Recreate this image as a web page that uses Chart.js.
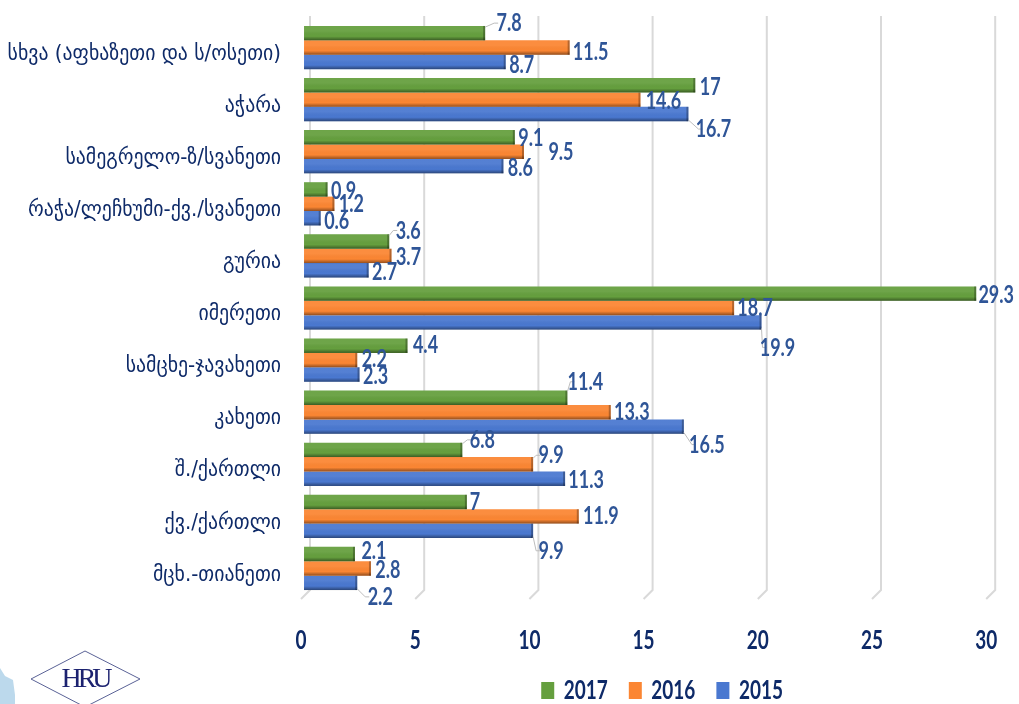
<!DOCTYPE html>
<html>
<head>
<meta charset="utf-8">
<title>chart</title>
<script src="https://cdn.jsdelivr.net/npm/chart.js@4"></script>
<style>
    html, body { margin: 0; padding: 0; background: #fff; }
    #wrap { width: 1019px; height: 704px; overflow: hidden; }
    canvas { filter: blur(0.5px); }
</style>
</head>
<body>
<div id="wrap"><canvas id="regionChart" width="1019" height="704"></canvas></div>
<script>
const categories = [
    'სხვა (აფხაზეთი და ს/ოსეთი)', 'აჭარა', 'სამეგრელო-ზ/სვანეთი',
    'რაჭა/ლეჩხუმი-ქვ./სვანეთი', 'გურია', 'იმერეთი', 'სამცხე-ჯავახეთი',
    'კახეთი', 'შ./ქართლი', 'ქვ./ქართლი', 'მცხ.-თიანეთი'
];
const values2017 = [7.8, 17, 9.1, 0.9, 3.6, 29.3, 4.4, 11.4, 6.8, 7, 2.1];
const values2016 = [11.5, 14.6, 9.5, 1.2, 3.7, 18.7, 2.2, 13.3, 9.9, 11.9, 2.8];
const values2015 = [8.7, 16.7, 8.6, 0.6, 2.7, 19.9, 2.3, 16.5, 11.3, 9.9, 2.2];

// Hand placed data labels, the original moved them around by hand too: [dx, dy] from bar end
const nudges2017 = [[24,-10],[15,2],[16,1],[16,1],[19,-11],[20,1],[18,-1],[18,-16],[20,-10],[8,0],[19,-3]];
const nudges2016 = [[21,4],[23,1],[37,0],[17,0],[17,1],[21,0],[17,-1],[21,0],[18,-9],[22,-1],[17,1]];
const nudges2015 = [[16,3],[25,15],[17,2],[16,3],[16,2],[16,25],[16,1],[23,18],[21,1],[18,20],[23,14]];

const NAVY = '#0e2a68';
const LABEL_BLUE = '#2f5597';
const NUM_FONT = 'Lato, "DejaVu Sans Condensed", sans-serif';
const DEPTH = 6; // fake 3D depth of the original chart
const STRETCH = 1.4; // the source picture is stretched upward, numbers look tall and narrow

const allNudges = [nudges2017, nudges2016, nudges2015];

const canvas = document.getElementById('regionChart');
const context = canvas.getContext('2d');

// Stretch plain numbers vertically, widths stay what the library measured
const rawFillText = context.fillText.bind(context);
context.fillText = function (text, x, y, maxWidth) {
    if (!/^[\d.]+$/.test(String(text))) {
        rawFillText(text, x, y, maxWidth);
        return;
    }
    context.save();
    context.translate(x, y);
    context.scale(1, STRETCH);
    rawFillText(text, 0, 0);
    context.restore();
};

function drawLogo(ctx) {
    ctx.save();
    // piece of the map at the very edge
    ctx.fillStyle = '#bcd9ec';
    ctx.beginPath();
    ctx.moveTo(0, 668);
    ctx.lineTo(5, 676);
    ctx.lineTo(13, 680);
    ctx.lineTo(15, 695);
    ctx.lineTo(15, 704);
    ctx.lineTo(0, 704);
    ctx.closePath();
    ctx.fill();
    // diamond
    ctx.strokeStyle = '#5a6296';
    ctx.lineWidth = 1;
    ctx.beginPath();
    ctx.moveTo(31, 679);
    ctx.lineTo(85, 651);
    ctx.lineTo(140, 679);
    ctx.lineTo(85, 707);
    ctx.closePath();
    ctx.stroke();
    ctx.fillStyle = '#1c2270';
    ctx.font = '28px "Liberation Serif", serif';
    ctx.letterSpacing = '-4px';
    ctx.textAlign = 'center';
    ctx.textBaseline = 'middle';
    ctx.fillText('HRU', 85, 680);
    ctx.restore();
}

// Back wall gridlines with the little diagonal at the floor
const wallPlugin = {
    id: 'wall',
    beforeDatasetsDraw(chart) {
        const { ctx, scales } = chart;
        ctx.save();
        ctx.strokeStyle = '#d9d9d9';
        ctx.lineWidth = 2;
        scales.x.ticks.forEach((tick) => {
            const x = scales.x.getPixelForValue(tick.value);
            ctx.beginPath();
            ctx.moveTo(x + 9, 16);
            ctx.lineTo(x + 9, 590);
            ctx.lineTo(x, 599);
            ctx.stroke();
        });
        ctx.restore();
        drawLogo(ctx);
        ctx.save();
        ctx.translate(DEPTH, 0);
    },
    afterDatasetsDraw(chart) {
        const { ctx } = chart;
        // shading on the bars
        chart.data.datasets.forEach((ds, di) => {
            chart.getDatasetMeta(di).data.forEach((bar) => {
                const { x, y, base, height } = bar.getProps(['x', 'y', 'base', 'height']);
                const top = y - height / 2;
                const grad = ctx.createLinearGradient(0, top, 0, top + height);
                grad.addColorStop(0, 'rgba(255,255,255,0.06)');
                grad.addColorStop(0.35, 'rgba(255,255,255,0.06)');
                grad.addColorStop(0.72, 'rgba(0,0,0,0)');
                grad.addColorStop(1, 'rgba(0,0,0,0.42)');
                ctx.fillStyle = grad;
                ctx.fillRect(base, top, x - base, height);
                ctx.fillStyle = 'rgba(0,0,0,0.28)';
                ctx.fillRect(x - 2, top, 2, height);
            });
        });
        ctx.restore();

        // data labels + leader lines
        ctx.save();
        ctx.font = 'bold 18px ' + NUM_FONT;
        ctx.textAlign = 'center';
        ctx.textBaseline = 'middle';
        chart.data.datasets.forEach((ds, di) => {
            chart.getDatasetMeta(di).data.forEach((bar, i) => {
                const { x, y } = bar.getProps(['x', 'y']);
                const [dx, dy] = allNudges[di][i];
                const endX = x + DEPTH;
                if (Math.abs(dy) >= 9) {
                    ctx.strokeStyle = '#bdbdbd';
                    ctx.lineWidth = 1;
                    ctx.beginPath();
                    ctx.moveTo(endX, y + Math.sign(dy) * 6);
                    ctx.lineTo(endX + dx - 15, y + dy);
                    ctx.lineTo(endX + dx - 11, y + dy);
                    ctx.stroke();
                }
                ctx.fillStyle = LABEL_BLUE;
                ctx.fillText(String(ds.data[i]), endX + dx, y + dy);
            });
        });
        ctx.restore();
    },
    afterLayout(chart) {
        // legend sits right of centre in the original
        const legend = chart.legend;
        legend.left += 169;
        legend.right += 169;
        legend.top = 685 - legend.height / 2;
        legend.bottom = 704;
        chart.scales.x.bottom = 672; // room for the tall tick numbers, they get clipped here
    }
};

function makeDataset(label, data, color) {
    return {
        label,
        data,
        backgroundColor: color,
        borderWidth: 0,
        base: -0.13,
        clip: false,
        categoryPercentage: 0.83,
        barPercentage: 1
    };
}

new Chart(context, {
    type: 'bar',
    data: {
        labels: categories,
        datasets: [
            makeDataset('2017', values2017, '#659f3e'),
            makeDataset('2016', values2016, '#fb8633'),
            makeDataset('2015', values2015, '#4a78d0')
        ]
    },
    options: {
        indexAxis: 'y',
        responsive: false,
        animation: false,
        layout: { autoPadding: false, padding: { top: 21.5, right: 32.8, left: 0, bottom: 0 } },
        plugins: {
            title: { display: false },
            tooltip: { enabled: false },
            legend: {
                position: 'bottom',
                labels: {
                    boxWidth: 13,
                    boxHeight: 17,
                    padding: 21,
                    color: NAVY,
                    font: { family: NUM_FONT, size: 19, weight: 'bold' }
                }
            }
        },
        scales: {
            x: {
                min: 0,
                max: 30,
                grid: { display: false },
                border: { display: false },
                afterFit(scale) {
                    scale.height = 109.5 - scale.chart.legend.height;
                    scale.paddingLeft = 0;
                    scale.paddingRight = 0;
                },
                ticks: {
                    stepSize: 5,
                    padding: 27,
                    color: NAVY,
                    maxRotation: 0,
                    font: { family: NUM_FONT, size: 19, weight: 'bold' }
                }
            },
            y: {
                grid: { display: false },
                border: { display: false },
                afterFit(scale) {
                    scale.width = 301;
                    scale.paddingTop = 0;
                    scale.paddingBottom = 0;
                },
                ticks: {
                    padding: 12,
                    labelOffset: 6.5,
                    color: NAVY,
                    autoSkip: false,
                    font: { family: '"DejaVu Sans Condensed", "DejaVu Sans", sans-serif', size: 22 }
                }
            }
        }
    },
    plugins: [wallPlugin]
});
</script>
</body>
</html>
